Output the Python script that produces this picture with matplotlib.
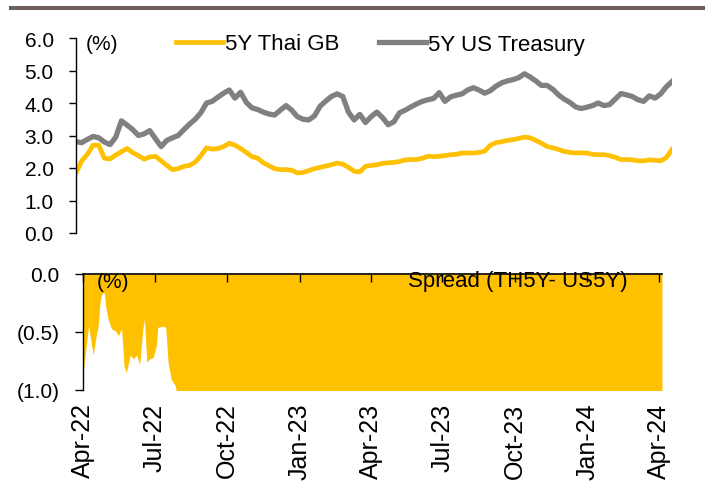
import matplotlib
matplotlib.use("Agg")
import matplotlib.pyplot as plt
from matplotlib.lines import Line2D
import numpy as np
import pandas as pd

plt.rcParams['font.family'] = ['Liberation Sans', 'DejaVu Sans']

# weekly yields (%)
start = pd.Timestamp('2022-04-01')
weeks = pd.date_range(start, periods=106, freq='7D')
th5y = [1.85, 2.22, 2.42, 2.70, 2.70, 2.30, 2.28, 2.40, 2.50, 2.60,
        2.47, 2.38, 2.27, 2.34, 2.36, 2.22, 2.08, 1.95, 1.98, 2.05,
        2.08, 2.18, 2.38, 2.62, 2.58, 2.60, 2.66, 2.76, 2.70, 2.60,
        2.48, 2.35, 2.30, 2.16, 2.07, 1.98, 1.95, 1.95, 1.93, 1.85,
        1.86, 1.92, 1.98, 2.02, 2.06, 2.10, 2.15, 2.12, 2.02, 1.90,
        1.88, 2.05, 2.08, 2.10, 2.14, 2.16, 2.17, 2.20, 2.25, 2.26,
        2.26, 2.30, 2.36, 2.35, 2.36, 2.38, 2.41, 2.42, 2.46, 2.46,
        2.46, 2.48, 2.52, 2.70, 2.78, 2.81, 2.85, 2.87, 2.91, 2.95,
        2.93, 2.85, 2.76, 2.66, 2.62, 2.57, 2.51, 2.48, 2.46, 2.47,
        2.46, 2.42, 2.41, 2.41, 2.38, 2.33, 2.26, 2.26, 2.25, 2.22,
        2.22, 2.25, 2.24, 2.22, 2.32, 2.57]
us5y = [2.81, 2.78, 2.88, 2.97, 2.93, 2.80, 2.72, 2.95, 3.45, 3.32,
        3.18, 3.00, 3.05, 3.15, 2.90, 2.66, 2.85, 2.93, 3.00, 3.18,
        3.35, 3.50, 3.70, 4.00, 4.05, 4.18, 4.30, 4.40, 4.15, 4.33,
        4.02, 3.85, 3.80, 3.72, 3.66, 3.63, 3.78, 3.92, 3.78, 3.58,
        3.50, 3.48, 3.60, 3.90, 4.06, 4.20, 4.28, 4.20, 3.72, 3.48,
        3.65, 3.40, 3.58, 3.72, 3.55, 3.33, 3.42, 3.70, 3.78, 3.88,
        3.97, 4.05, 4.10, 4.14, 4.32, 4.05, 4.19, 4.24, 4.28, 4.40,
        4.47, 4.40, 4.30, 4.38, 4.52, 4.62, 4.68, 4.72, 4.78, 4.90,
        4.80, 4.68, 4.54, 4.54, 4.42, 4.25, 4.12, 4.02, 3.88, 3.83,
        3.87, 3.92, 4.00, 3.92, 3.95, 4.12, 4.29, 4.25, 4.20, 4.10,
        4.05, 4.22, 4.15, 4.28, 4.50, 4.66]

# spread TH5Y - US5Y (days since start, %)
spread_day = [0, 3, 7, 9, 13, 17, 19, 22, 24, 27,
              29, 32, 36, 41, 45, 49, 52, 55, 60, 64,
              68, 72, 76, 78, 81, 85, 89, 93, 95, 102,
              105, 108, 112, 117, 120, 150, 200, 250, 300, 350,
              400, 450, 500, 550, 600, 650, 700, 735]
spread_val = [-0.85, -0.69, -0.45, -0.53, -0.70, -0.52, -0.46, -0.22, -0.17, -0.16,
              -0.29, -0.39, -0.47, -0.49, -0.53, -0.47, -0.79, -0.85, -0.70, -0.73,
              -0.70, -0.78, -0.47, -0.39, -0.76, -0.73, -0.72, -0.62, -0.46, -0.45,
              -0.46, -0.76, -0.91, -0.96, -1.05, -1.2, -1.6, -1.8, -1.7, -1.6,
              -1.5, -1.8, -1.9, -1.9, -1.6, -1.7, -1.8, -2.1]
spread_dates = start + pd.to_timedelta(spread_day, unit='D')

top_ticks = [0, 1, 2, 3, 4, 5, 6]
top_labels = ['0.0', '1.0', '2.0', '3.0', '4.0', '5.0', '6.0']
bot_ticks = [-1.0, -0.5, 0.0]
bot_labels = ['(1.0)', '(0.5)', '0.0']
q_dates = pd.to_datetime(['2022-04-01', '2022-07-01', '2022-10-01', '2023-01-01', '2023-04-01',
                          '2023-07-01', '2023-10-01', '2024-01-01', '2024-04-01'])
q_labels = ['Apr-22', 'Jul-22', 'Oct-22', 'Jan-23', 'Apr-23', 'Jul-23', 'Oct-23', 'Jan-24', 'Apr-24']

gold = '#FFC000'
grey = '#808080'

W, H = 705, 489
fig = plt.figure(figsize=(W / 100, H / 100), dpi=100)

def box(l, t, r, b):
    return [l / W, 1 - b / H, (r - l) / W, (b - t) / H]

# header rule
fig.add_artist(Line2D([11 / W, 1], [1 - 9 / H, 1 - 9 / H], color='#6d5f5b', lw=2.9,
                      transform=fig.transFigure))

# top panel: yields
ax1 = fig.add_axes(box(76, 39, 672, 234))
ax1.plot(weeks, th5y, color=gold, lw=3.4, label='5Y Thai GB')
ax1.plot(weeks, us5y, color=grey, lw=3.8, label='5Y US Treasury')
ax1.set_xlim(weeks[0], weeks[-1])
ax1.set_ylim(0, 6)
for s in ['top', 'right', 'bottom']:
    ax1.spines[s].set_visible(False)
ax1.spines['left'].set_linewidth(1.0)
ax1.set_xticks([])
ax1.set_yticks(top_ticks, top_labels)
ax1.tick_params(axis='y', direction='out', length=5, width=1.0, pad=11, labelsize=15)

fig.legend(loc='center left', bbox_to_anchor=(176 / W, 1 - 45 / H), ncol=2, frameon=False,
           fontsize=16, handlelength=2.1, handletextpad=0.1, columnspacing=1.8,
           borderpad=0, borderaxespad=0)
fig.text(86 / W, 1 - 45 / H, '(%)', ha='left', va='center', fontsize=15)

# bottom panel: spread
ax2 = fig.add_axes(box(83, 275, 662, 391))
ax2.fill_between(spread_dates, spread_val, 0, color=gold, lw=0)
ax2.set_xlim(weeks[0], weeks[-1])
ax2.set_ylim(-1, 0)
for s in ['right', 'bottom']:
    ax2.spines[s].set_visible(False)
ax2.spines['top'].set_linewidth(1.2)
ax2.spines['left'].set_linewidth(1.0)
ax2.set_yticks(bot_ticks, bot_labels)
ax2.tick_params(axis='y', direction='out', length=6, width=1.0, pad=11, labelsize=15)
ax2.set_xticks(q_dates, q_labels)
ax2.tick_params(axis='x', bottom=False, top=True, labelbottom=True, labeltop=False,
                direction='in', length=6, width=1.0, pad=9, labelsize=18, rotation=90)

fig.text(97 / W, 1 - 283 / H, '(%)', ha='left', va='center', fontsize=15)
fig.text(408 / W, 1 - 282 / H, 'Spread (TH5Y- US5Y)', ha='left', va='center', fontsize=16)

fig.savefig('out.png', dpi=100)
